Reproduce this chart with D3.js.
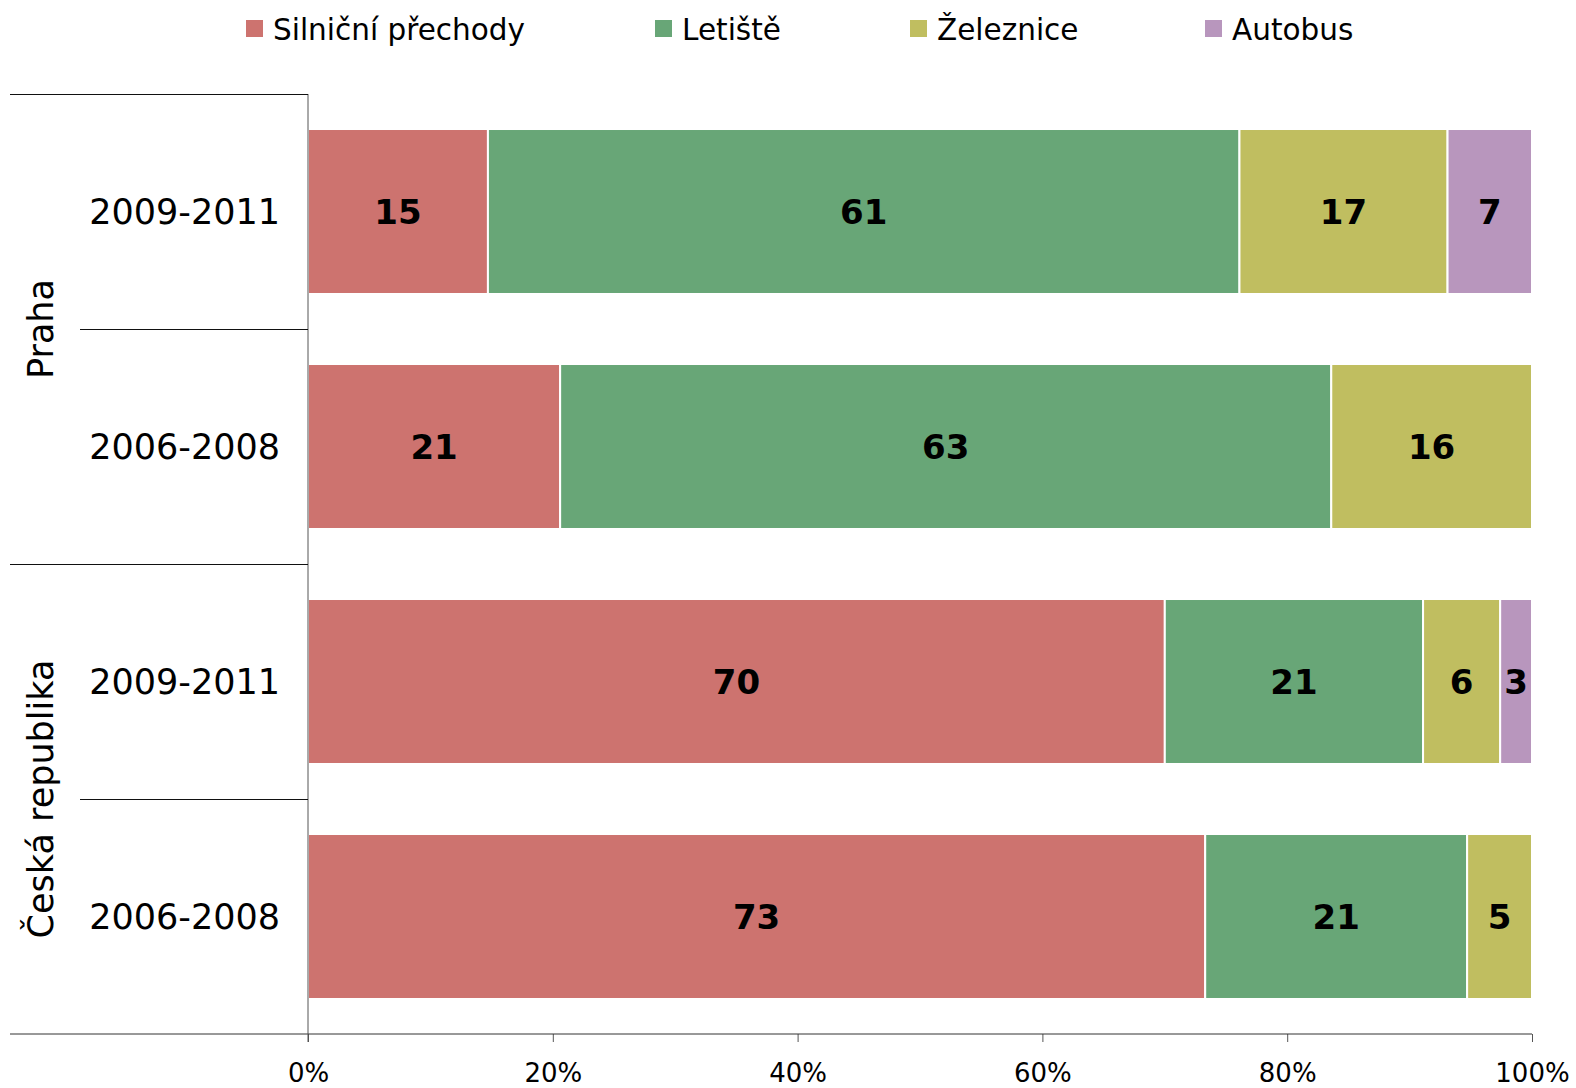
<!DOCTYPE html>
<html>
<head>
<meta charset="utf-8">
<script src="https://cdn.jsdelivr.net/npm/d3@7"></script>
<style>
  body { margin: 0; background: #fff; }
  text { font-family: "DejaVu Sans", Verdana, sans-serif; }
</style>
</head>
<body>
<div id="chart"></div>
<script>
// categories (top to bottom)
var groups = ["Praha", "Praha", "Česká republika", "Česká republika"];
var periods = ["2009-2011", "2006-2008", "2009-2011", "2006-2008"];
var seriesNames = ["Silniční přechody", "Letiště", "Železnice", "Autobus"];

// share in % per row
var silnicni = [14.7, 20.6, 70.0, 73.3];
var letiste  = [61.4, 63.0, 21.1, 21.4];
var zeleznice = [17.0, 16.4, 6.3, 5.3];
var autobus  = [6.9, 0, 2.6, 0];

var xTicks = [0, 20, 40, 60, 80, 100];

var colors = ["#cd736f", "#68a677", "#c0be60", "#b896bd"];

var W = 1576, H = 1088;
var margin = {top: 94, right: 44, bottom: 54, left: 308};
var width = W - margin.left - margin.right,
    height = H - margin.top - margin.bottom;

var svg = d3.select("#chart").append("svg")
  .attr("width", W).attr("height", H);

var g = svg.append("g")
  .attr("transform", "translate(" + margin.left + "," + margin.top + ")");

var rows = periods.map(function(p, i) {
  return {id: i, group: groups[i], period: p,
    "Silniční přechody": silnicni[i], "Letiště": letiste[i],
    "Železnice": zeleznice[i], "Autobus": autobus[i]};
});

var x = d3.scaleLinear().domain([0, 100]).range([0, width]);
var y = d3.scaleBand().domain(rows.map(function(d){ return d.id; }))
  .range([0, height]).paddingInner(0.298).paddingOuter(0.149);
var step = y.step();

var stack = d3.stack().keys(seriesNames)(rows);

// bars
var layer = g.selectAll(".layer").data(stack).enter().append("g")
  .attr("class", "layer")
  .attr("fill", function(d, i){ return colors[i]; });

layer.selectAll("rect").data(function(d){ return d; }).enter()
  .filter(function(d){ return d[1] - d[0] > 0; })
  .append("rect")
    .attr("x", function(d){ return x(d[0]); })
    .attr("y", function(d){ return y(d.data.id); })
    .attr("width", function(d){ return x(d[1]) - x(d[0]); })
    .attr("height", y.bandwidth())
    .attr("stroke", "#fff")
    .attr("stroke-width", 2);

// value labels
layer.selectAll("text").data(function(d){ return d; }).enter()
  .filter(function(d){ return d[1] - d[0] > 0; })
  .append("text")
    .attr("x", function(d){ return (x(d[0]) + x(d[1])) / 2; })
    .attr("y", function(d){ return y(d.data.id) + y.bandwidth() / 2; })
    .attr("dy", "0.36em")
    .attr("text-anchor", "middle")
    .attr("fill", "#000")
    .style("font-size", "34px")
    .style("font-weight", "bold")
    .text(function(d){ return d3.format(".0f")(d[1] - d[0]); });

// x axis
var xAxis = g.append("g")
  .attr("transform", "translate(0," + height + ")")
  .call(d3.axisBottom(x).tickValues(xTicks).tickSize(8).tickPadding(22)
    .tickFormat(function(d){ return d + "%"; }));
xAxis.select(".domain").remove();
xAxis.selectAll(".tick line").attr("stroke", "#555");
xAxis.selectAll("text").style("font-size", "26px").attr("fill", "#000");

g.append("line")
  .attr("x1", -margin.left + 10).attr("x2", width)
  .attr("y1", height).attr("y2", height)
  .attr("stroke", "#333");

// y axis line
g.append("line")
  .attr("x1", 0).attr("x2", 0).attr("y1", 0).attr("y2", height + 8)
  .attr("stroke", "#555");

// row separators on the left
rows.forEach(function(d, i) {
  var top = Math.round(y(d.id) - y.paddingOuter() * step) + 0.5;
  var groupStart = i === 0 || groups[i - 1] !== d.group;
  g.append("line")
    .attr("x1", groupStart ? -margin.left + 10 : -margin.left + 80)
    .attr("x2", 0)
    .attr("y1", top).attr("y2", top)
    .attr("stroke", "#111");
});

// period labels
g.selectAll(".period").data(rows).enter().append("text")
  .attr("class", "period")
  .attr("x", -28)
  .attr("y", function(d){ return y(d.id) + y.bandwidth() / 2; })
  .attr("dy", "0.36em")
  .attr("text-anchor", "end")
  .style("font-size", "35px")
  .text(function(d){ return d.period; });

// group labels (rotated)
var groupNames = Array.from(new Set(groups));
groupNames.forEach(function(name) {
  var ids = rows.filter(function(d){ return d.group === name; });
  var y0 = y(ids[0].id) - y.paddingOuter() * step;
  var y1 = y(ids[ids.length - 1].id) + y.bandwidth() + y.paddingOuter() * step;
  g.append("text")
    .attr("transform", "translate(" + (-margin.left + 40) + "," + ((y0 + y1) / 2) + ") rotate(-90)")
    .attr("text-anchor", "middle")
    .attr("dy", "0.36em")
    .style("font-size", "35px")
    .text(name);
});

// legend
var legendX = [246, 655, 910, 1205];
var legend = svg.selectAll(".legend").data(seriesNames).enter().append("g")
  .attr("class", "legend")
  .attr("transform", function(d, i){ return "translate(" + legendX[i] + ",20)"; });
legend.append("rect")
  .attr("width", 17).attr("height", 17)
  .attr("fill", function(d, i){ return colors[i]; });
legend.append("text")
  .attr("x", 27).attr("y", 9)
  .attr("dy", "0.36em")
  .style("font-size", "29.5px")
  .text(function(d){ return d; });
</script>
</body>
</html>
